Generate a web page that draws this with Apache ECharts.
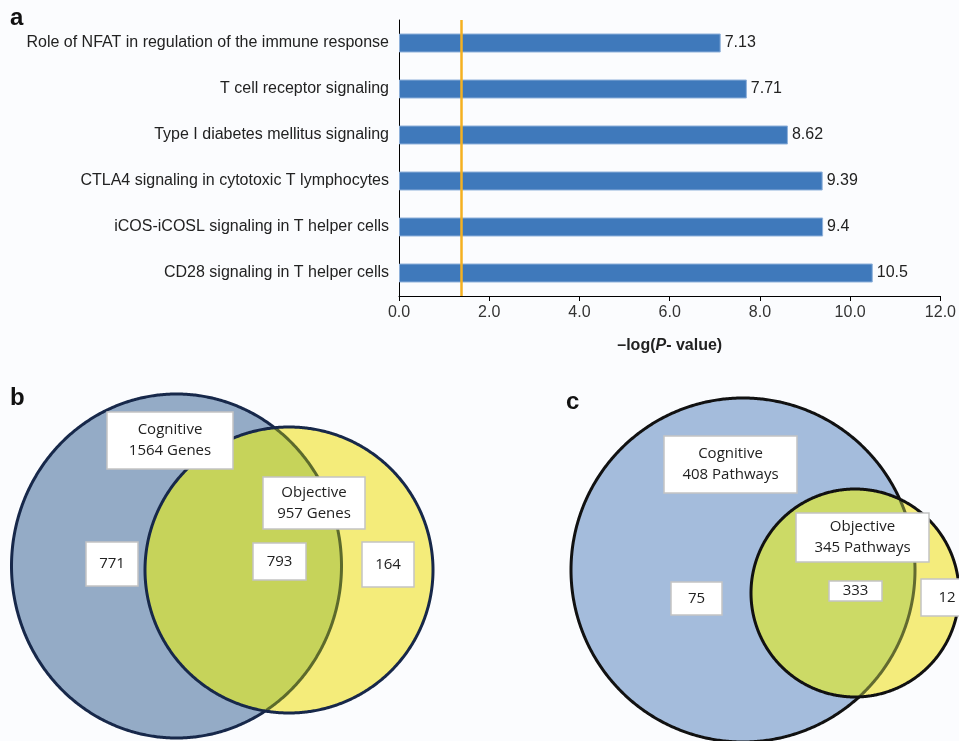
<!DOCTYPE html>
<html>
<head>
<meta charset="utf-8">
<script src="https://cdn.jsdelivr.net/npm/echarts@6/dist/echarts.min.js"></script>
<style>
  html, body { margin: 0; padding: 0; background: #fbfcfe; }
  #main { width: 959px; height: 741px; }
</style>
</head>
<body>
<div id="main"></div>
<script>
// panel a: pathways and -log(P) values
var pathways = [
    'Role of NFAT in regulation of the immune response',
    'T cell receptor signaling',
    'Type I diabetes mellitus signaling',
    'CTLA4 signaling in cytotoxic T lymphocytes',
    'iCOS-iCOSL signaling in T helper cells',
    'CD28 signaling in T helper cells'
];
var logP = [7.13, 7.71, 8.62, 9.39, 9.4, 10.5];
var threshold = 1.39;

// panel b: genes venn
var genesSets = ['Cognitive\n1564 Genes', 'Objective\n957 Genes'];
var genesCounts = [771, 793, 164];

// panel c: pathways venn
var pathSets = ['Cognitive\n408 Pathways', 'Objective\n345 Pathways'];
var pathCounts = [75, 333, 12];

var chart = echarts.init(document.getElementById('main'));

function ellipsePts(e, n) {
    var pts = [];
    for (var i = 0; i < n; i++) {
        var t = i / n * Math.PI * 2;
        pts.push([e.cx + e.rx * Math.cos(t), e.cy + e.ry * Math.sin(t)]);
    }
    return pts;
}
function inside(p, e) {
    var dx = (p[0] - e.cx) / e.rx, dy = (p[1] - e.cy) / e.ry;
    return dx * dx + dy * dy <= 1;
}
// contiguous run of one outline that lies inside the other shape
function runInside(pts, other) {
    var n = pts.length, flags = pts.map(function (p) { return inside(p, other); });
    var s = 0;
    for (var i = 0; i < n; i++) {
        if (flags[i] && !flags[(i - 1 + n) % n]) { s = i; break; }
    }
    var run = [];
    for (var k = 0; k < n; k++) {
        var j = (s + k) % n;
        if (!flags[j]) break;
        run.push(pts[j]);
    }
    return run;
}

function venn(A, B, cols, stroke, inner, z) {
    var pa = ellipsePts(A, 720), pb = ellipsePts(B, 720);
    var arcA = runInside(pa, B), arcB = runInside(pb, A);
    return [
        { type: 'polygon', z: z, shape: { points: pa }, style: { fill: cols[0], stroke: stroke, lineWidth: 3 } },
        { type: 'polygon', z: z + 1, shape: { points: pb }, style: { fill: cols[2] } },
        { type: 'polygon', z: z + 2, shape: { points: arcA.concat(arcB) }, style: { fill: cols[1] } },
        { type: 'polyline', z: z + 3, shape: { points: arcA }, style: { stroke: inner, lineWidth: 3, fill: null } },
        { type: 'polygon', z: z + 4, shape: { points: pb }, style: { fill: null, stroke: stroke, lineWidth: 3 } }
    ];
}

function box(b, txt, z) {
    return [
        { type: 'rect', z: z, shape: { x: b.x, y: b.y, width: b.w, height: b.h },
          style: { fill: '#ffffff', stroke: '#c4c4c4', lineWidth: 1.5 } },
        { type: 'text', z: z + 1, x: b.x + b.w / 2, y: b.y + b.h / 2,
          style: { text: String(txt), font: '15px "Open Sans"', fill: '#222', lineHeight: 21,
                   align: 'center', verticalAlign: 'middle', textAlign: 'center', textVerticalAlign: 'middle' } }
    ];
}

function panelLabel(t, x, y) {
    return { type: 'text', z: 50, x: x, y: y,
             style: { text: t, font: 'bold 24px "Liberation Sans"', fill: '#111',
                      align: 'left', verticalAlign: 'top', textAlign: 'left', textVerticalAlign: 'top' } };
}

// venn layout (pixels)
var bA = { cx: 176.5, cy: 566, rx: 165, ry: 172 }, bB = { cx: 289, cy: 570, rx: 144, ry: 143 };
var bBoxes = [{ x: 107, y: 412, w: 126, h: 57 }, { x: 263, y: 477, w: 102, h: 52 },
              { x: 86, y: 542, w: 52, h: 44 }, { x: 253, y: 543, w: 53, h: 37 }, { x: 362, y: 542, w: 52, h: 45 }];
var cA = { cx: 743, cy: 570, rx: 172, ry: 172 }, cB = { cx: 855, cy: 593, rx: 104, ry: 104 };
var cBoxes = [{ x: 664, y: 436, w: 133, h: 57 }, { x: 796, y: 513, w: 133, h: 49 },
              { x: 671, y: 582, w: 51, h: 33 }, { x: 829, y: 581, w: 53, h: 20 }, { x: 921, y: 579, w: 52, h: 37 }];

var graphics = [];
graphics = graphics.concat(venn(bA, bB, ['#94abc6', '#c6d35a', '#f4ec7a'], '#17284a', '#5c6a2c', 10));
graphics = graphics.concat(venn(cA, cB, ['#a4bcdc', '#ccda66', '#f4ec7c'], '#111111', '#626a30', 10));
var bTexts = genesSets.concat(genesCounts), cTexts = pathSets.concat(pathCounts);
for (var i = 0; i < 5; i++) {
    graphics = graphics.concat(box(bBoxes[i], bTexts[i], 30));
    graphics = graphics.concat(box(cBoxes[i], cTexts[i], 30));
}
graphics.push(panelLabel('a', 10, 6));
graphics.push(panelLabel('b', 10, 386));
graphics.push(panelLabel('c', 566, 390));

var option = {
    backgroundColor: '#fbfcfe',
    animation: false,
    textStyle: { fontFamily: 'Liberation Sans' },
    grid: { left: 399, right: 16, top: 20, height: 276 },
    xAxis: {
        type: 'value',
        min: 0,
        max: 12,
        interval: 2,
        axisLine: { show: true, lineStyle: { color: '#000', width: 1 } },
        axisTick: { show: true, length: 5, lineStyle: { color: '#000' } },
        splitLine: { show: false },
        axisLabel: { fontSize: 16, color: '#333', margin: 9,
                     formatter: function (v) { return v.toFixed(1); } },
        name: '{b|\u2013log(}{i|P}{b|- value)}',
        nameLocation: 'middle',
        nameGap: 42,
        nameTextStyle: {
            rich: {
                b: { fontWeight: 'bold', fontSize: 16, color: '#222' },
                i: { fontWeight: 'bold', fontStyle: 'italic', fontSize: 16, color: '#222' }
            }
        }
    },
    yAxis: {
        type: 'category',
        data: pathways,
        inverse: true,
        axisLine: { show: true, lineStyle: { color: '#000', width: 1 } },
        axisTick: { show: false },
        axisLabel: { fontSize: 16, color: '#222', margin: 10 }
    },
    series: [{
        type: 'bar',
        data: logP,
        barWidth: 19,
        itemStyle: { color: '#3f79bb', borderColor: '#8fb1da', borderWidth: 1 },
        label: { show: true, position: 'right', distance: 4, fontSize: 16, color: '#222' },
        markLine: {
            silent: true,
            symbol: 'none',
            label: { show: false },
            lineStyle: { color: '#f5b120', width: 2.5, type: 'solid' },
            data: [{ xAxis: threshold }]
        }
    }],
    graphic: graphics
};
chart.setOption(option);
</script>
</body>
</html>
